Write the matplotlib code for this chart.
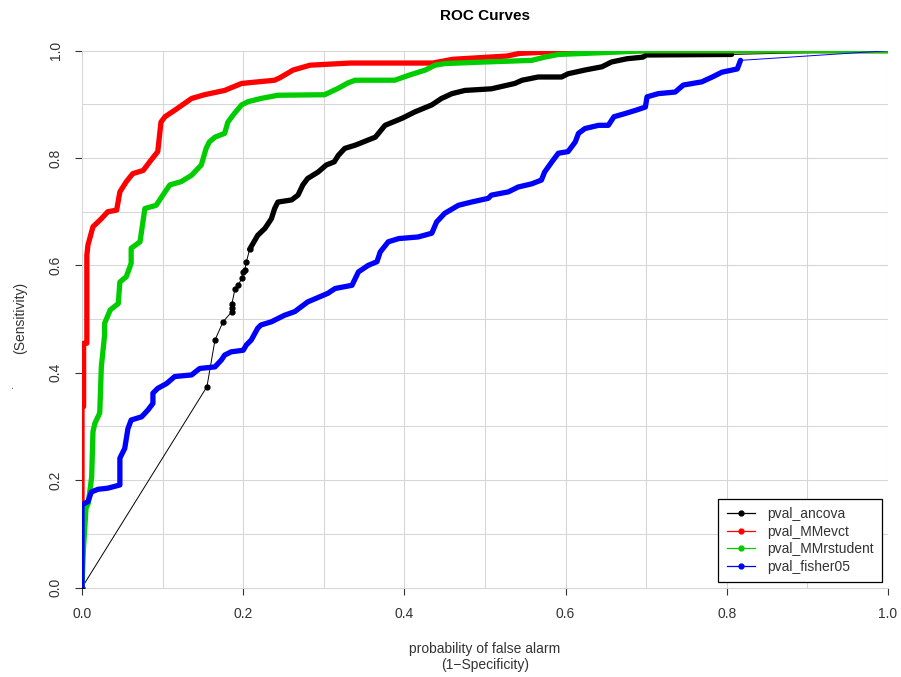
import numpy as np
import matplotlib
matplotlib.use("Agg")
import matplotlib.pyplot as plt
from matplotlib.lines import Line2D

plt.rcParams['font.family'] = ['Liberation Sans', 'DejaVu Sans']

# ROC points (x = 1-specificity, y = sensitivity)
ancova_x = [0, 0.155, 0.165, 0.175, 0.186, 0.186, 0.186, 0.190, 0.194, 0.198, 0.200, 0.202, 0.204,
            0.208, 0.218, 0.227, 0.235, 0.239, 0.243, 0.260, 0.268, 0.274, 0.280, 0.293, 0.303,
            0.313, 0.318, 0.326, 0.339, 0.364, 0.376, 0.397, 0.413, 0.434, 0.446, 0.459, 0.475,
            0.508, 0.537, 0.546, 0.566, 0.595, 0.603, 0.624, 0.645, 0.657, 0.676, 0.696, 0.700,
            0.806, 1.0]
ancova_y = [0, 0.374, 0.461, 0.495, 0.514, 0.521, 0.529, 0.557, 0.563, 0.576, 0.588, 0.591, 0.607,
            0.630, 0.656, 0.669, 0.687, 0.706, 0.718, 0.722, 0.731, 0.750, 0.762, 0.774, 0.787,
            0.793, 0.805, 0.818, 0.824, 0.839, 0.861, 0.874, 0.886, 0.899, 0.911, 0.920, 0.926,
            0.929, 0.939, 0.945, 0.951, 0.951, 0.957, 0.964, 0.970, 0.979, 0.985, 0.988, 0.992,
            0.993, 1.0]

mmevct_x = [0, 0, 0.002, 0.002, 0.006, 0.006, 0.0074, 0.0136, 0.024, 0.032, 0.043, 0.047, 0.055,
            0.063, 0.076, 0.084, 0.094, 0.098, 0.103, 0.115, 0.136, 0.152, 0.177, 0.198, 0.239,
            0.246, 0.262, 0.283, 0.333, 0.435, 0.460, 0.527, 0.543, 0.584, 0.600, 1.0]
mmevct_y = [0, 0.337, 0.337, 0.455, 0.455, 0.619, 0.638, 0.672, 0.687, 0.700, 0.703, 0.737, 0.756,
            0.771, 0.777, 0.793, 0.812, 0.867, 0.877, 0.889, 0.911, 0.918, 0.926, 0.939, 0.945,
            0.950, 0.964, 0.973, 0.977, 0.977, 0.984, 0.990, 0.995, 0.998, 1.0, 1.0]

mmrstudent_x = [0, 0.0017, 0.005, 0.0078, 0.012, 0.0136, 0.016, 0.022, 0.024, 0.028, 0.028, 0.035,
                0.045, 0.047, 0.055, 0.061, 0.061, 0.072, 0.078, 0.092, 0.103, 0.109, 0.123, 0.136,
                0.148, 0.154, 0.158, 0.165, 0.177, 0.181, 0.189, 0.198, 0.206, 0.222, 0.243, 0.301,
                0.318, 0.330, 0.339, 0.388, 0.405, 0.426, 0.438, 0.450, 0.500, 0.558, 0.574, 0.591,
                0.657, 0.700, 1.0]
mmrstudent_y = [0, 0.070, 0.148, 0.157, 0.206, 0.290, 0.306, 0.325, 0.411, 0.470, 0.492, 0.517,
                0.529, 0.569, 0.579, 0.604, 0.632, 0.644, 0.706, 0.712, 0.737, 0.750, 0.756, 0.768,
                0.787, 0.818, 0.830, 0.839, 0.846, 0.867, 0.883, 0.899, 0.905, 0.911, 0.917, 0.918,
                0.930, 0.940, 0.945, 0.945, 0.954, 0.964, 0.973, 0.976, 0.979, 0.982, 0.988, 0.993,
                0.997, 1.0, 1.0]

fisher_x = [0, 0, 0.0074, 0.0116, 0.020, 0.032, 0.047, 0.047, 0.053, 0.057, 0.061, 0.074, 0.082,
            0.088, 0.088, 0.094, 0.105, 0.115, 0.136, 0.146, 0.165, 0.173, 0.177, 0.185, 0.200,
            0.204, 0.210, 0.218, 0.222, 0.235, 0.251, 0.264, 0.280, 0.305, 0.314, 0.335, 0.343,
            0.355, 0.366, 0.370, 0.380, 0.393, 0.417, 0.434, 0.440, 0.450, 0.467, 0.483, 0.504,
            0.508, 0.529, 0.541, 0.558, 0.570, 0.574, 0.583, 0.591, 0.603, 0.612, 0.616, 0.624,
            0.641, 0.653, 0.660, 0.674, 0.687, 0.699, 0.701, 0.715, 0.736, 0.746, 0.769, 0.782,
            0.794, 0.813, 0.817, 1.0]
fisher_y = [0, 0.154, 0.160, 0.178, 0.183, 0.185, 0.191, 0.241, 0.259, 0.296, 0.312, 0.318, 0.331,
            0.343, 0.362, 0.371, 0.380, 0.393, 0.396, 0.408, 0.411, 0.424, 0.433, 0.439, 0.442,
            0.452, 0.461, 0.483, 0.489, 0.495, 0.507, 0.514, 0.532, 0.548, 0.557, 0.563, 0.588,
            0.600, 0.607, 0.625, 0.644, 0.650, 0.653, 0.660, 0.681, 0.697, 0.712, 0.718, 0.725,
            0.731, 0.737, 0.746, 0.752, 0.759, 0.774, 0.793, 0.809, 0.812, 0.830, 0.846, 0.855,
            0.861, 0.861, 0.877, 0.883, 0.889, 0.895, 0.914, 0.920, 0.923, 0.936, 0.942, 0.951,
            0.960, 0.966, 0.982, 1.0]

labels = ['pval_ancova', 'pval_MMevct', 'pval_MMrstudent', 'pval_fisher05']
colors = ['black', '#ff0000', '#00cd00', '#0000ff']

fig = plt.figure(figsize=(9.01, 6.77), dpi=100)
ax = fig.add_axes([82 / 901, 1 - 587.5 / 677, 806 / 901, 536.8 / 677])

ax.set_xlim(0, 1)
ax.set_ylim(0, 1)
ax.set_xticks(np.arange(0, 1.01, 0.2))
ax.set_yticks(np.arange(0, 1.01, 0.2))
ax.set_xticks(np.arange(0.1, 1.0, 0.2), minor=True)
ax.set_yticks(np.arange(0.1, 1.0, 0.2), minor=True)
ax.xaxis.set_major_formatter(matplotlib.ticker.FormatStrFormatter('%.1f'))
ax.yaxis.set_major_formatter(matplotlib.ticker.FormatStrFormatter('%.1f'))
ax.grid(True, which='both', color='#d6d6d6', lw=0.75)
ax.set_axisbelow(True)
ax.tick_params(which='minor', length=0)
ax.tick_params(which='major', length=5, width=0.8, color='#333333', labelsize=10,
               labelcolor='#333333', pad=9)
for lab in ax.get_yticklabels():
    lab.set_rotation(90)
    lab.set_va('center')
for side in ['top', 'right']:
    ax.spines[side].set_visible(False)
for side in ['left', 'bottom']:
    ax.spines[side].set_color('#d6d6d6')
    ax.spines[side].set_linewidth(0.75)

# black: sparse start, dense from index 13, thin tail
ax.plot(ancova_x[:14], ancova_y[:14], color='black', lw=0.7, marker='o', ms=3.5, zorder=3)
ax.plot(ancova_x[13:-1], ancova_y[13:-1], color='black', lw=3.8, solid_joinstyle='round',
        solid_capstyle='round', zorder=3)
ax.plot(ancova_x[-2:], ancova_y[-2:], color='black', lw=0.7, zorder=3)

ax.plot(mmevct_x, mmevct_y, color=colors[1], lw=3.8, solid_joinstyle='round',
        solid_capstyle='round', zorder=4)
ax.plot(mmrstudent_x, mmrstudent_y, color=colors[2], lw=3.8, solid_joinstyle='round',
        solid_capstyle='round', zorder=5)

ax.plot(fisher_x[:-1], fisher_y[:-1], color=colors[3], lw=3.8, solid_joinstyle='round',
        solid_capstyle='round', zorder=6)
ax.plot(fisher_x[-2:], fisher_y[-2:], color=colors[3], lw=0.7, zorder=6)

handles = [Line2D([], [], color=c, lw=0.9, marker='o', ms=3.5) for c in colors]
leg = ax.legend(handles, labels, loc='lower right', bbox_to_anchor=(1 - 6 / 806, 5.5 / 537),
                borderaxespad=0, fancybox=False, edgecolor='black', framealpha=1,
                fontsize=10, handlelength=2.0, handletextpad=0.9, labelspacing=0.25,
                borderpad=0.6)
leg.get_frame().set_linewidth(0.9)
for t in leg.get_texts():
    t.set_color('#333333')

fig.text(485 / 901, 1 - 16 / 677, 'ROC Curves', ha='center', va='center',
         fontsize=11, fontweight='bold')
fig.text(485 / 901, 1 - 657 / 677, 'probability of false alarm\n(1\u2212Specificity)',
         ha='center', va='center', fontsize=10, color='#333333', linespacing=1.1)
fig.text(20 / 901, 1 - 318 / 677, '(Sensitivity)', ha='center', va='center', rotation=90,
         fontsize=10, color='#333333')
fig.text(10 / 901, 1 - 386 / 677, '.', ha='center', va='center', rotation=90,
         fontsize=9, color='#555555')

fig.savefig('out.png', dpi=100)
